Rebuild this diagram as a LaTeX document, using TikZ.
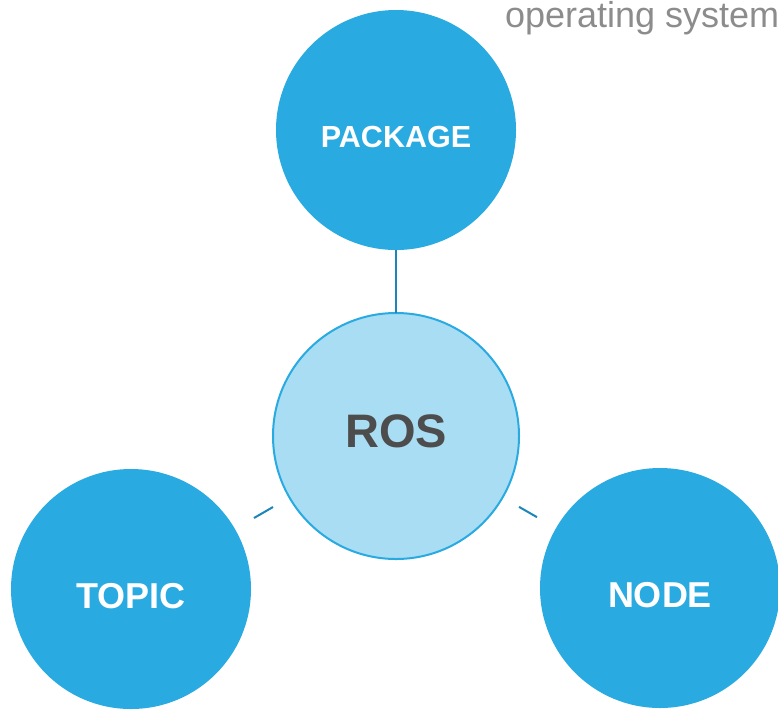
\documentclass[tikz,border=0pt]{standalone}
\usepackage{fontspec}
\setmainfont{Liberation Sans}
\definecolor{rosblue}{RGB}{41,170,225}
\definecolor{roslight}{RGB}{169,221,243}
\definecolor{roslink}{RGB}{27,134,186}
\definecolor{rosgray}{RGB}{77,77,77}
\definecolor{captiongray}{RGB}{140,140,140}

\begin{document}
\begin{tikzpicture}[x=1pt, y=-1pt,
    every node/.style={inner sep=0pt, outer sep=0pt},
    concept/.style={circle, fill=rosblue, minimum size=240pt},
    core/.style={circle, draw=rosblue, line width=2pt, fill=roslight, minimum size=246pt},
    conceptlabel/.style={text=white, font=\bfseries\fontsize{36}{43}\selectfont},
    link/.style={roslink, line width=2pt}]
    \useasboundingbox (0,0) rectangle (778,710);

    % centre circle and the three concepts round it
    \node[core, label={[yshift=5pt, text=rosgray, font=\bfseries\fontsize{47}{56}\selectfont]center:ROS}] (ros) at (396,436) {};
    \node[concept, label={[conceptlabel, yshift=-7pt, font=\bfseries\fontsize{30.5}{36}\selectfont]center:PACKAGE}] (package) at (396,130) {};
    \node[concept, label={[conceptlabel, yshift=-7pt]center:TOPIC}] (topic) at (131,589) {};
    \node[concept, label={[conceptlabel, yshift=-7pt]center:NODE}] (rosnode) at (660,588) {};

    \node[anchor=base west, text=captiongray, font=\fontsize{36}{43}\selectfont] (caption) at (505,27) {operating system};

    % links
    \draw[link] (package) -- (ros);
    \draw[link, shorten <=19pt, shorten >=22pt] (ros) -- (topic);
    \draw[link, shorten <=19pt, shorten >=22pt] (ros) -- (rosnode);
\end{tikzpicture}
\end{document}
